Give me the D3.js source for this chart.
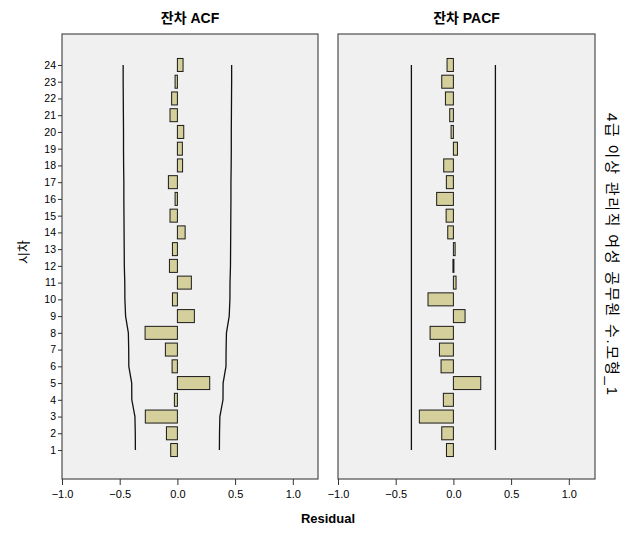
<!DOCTYPE html>
<html><head><meta charset="utf-8">
<script src="https://cdn.jsdelivr.net/npm/d3@7"></script>
<style>
html,body{margin:0;padding:0;background:#fff;}
text{font-family:"Liberation Sans",Arial,"Noto Sans CJK KR",sans-serif;}
</style></head>
<body>
<svg id="c" width="629" height="544"></svg>
<script>
const lags = d3.range(1, 25);
const acfValues = [-0.058,-0.095,-0.278,-0.026,0.28,-0.046,-0.104,-0.28,0.147,-0.043,0.121,-0.069,-0.043,0.067,-0.064,-0.02,-0.078,0.045,0.043,0.055,-0.064,-0.05,-0.02,0.049];
const acfLimits = [0.364,0.365,0.368,0.395,0.396,0.421,0.422,0.425,0.449,0.455,0.456,0.460,0.461,0.462,0.463,0.464,0.464,0.466,0.467,0.467,0.468,0.469,0.470,0.470];
const pacfValues = [-0.06,-0.101,-0.295,-0.087,0.237,-0.107,-0.121,-0.202,0.101,-0.22,0.023,-0.004,0.015,-0.049,-0.063,-0.145,-0.061,-0.084,0.035,-0.02,-0.032,-0.069,-0.101,-0.055];
const pacfLimits = lags.map(() => 0.364);
const xTicks = [-1.0, -0.5, 0.0, 0.5, 1.0];
const panelTitles = ["잔차 ACF", "잔차 PACF"];
const yLabel = "시차";
const xLabel = "Residual";
const rightLabel = "4급 이상 관리직 여성 공무원 수.모형_1";

const svg = d3.select("#c");
const pTop = 34, pBottom = 479;
const y = d3.scaleLinear().domain([-0.73, 25.85]).range([pBottom, pTop]);
const barH = 13;

const panels = [
  {x0: 62, x1: 318, values: acfValues, limits: acfLimits, title: panelTitles[0]},
  {x0: 338, x1: 595, values: pacfValues, limits: pacfLimits, title: panelTitles[1]}
];

panels.forEach((p, pi) => {
  const x = d3.scaleLinear().domain([-1, 1]).range([p.x0, p.x0 + 2*115.4]);
  const g = svg.append("g");
  g.append("rect").attr("x", p.x0).attr("y", pTop).attr("width", p.x1 - p.x0).attr("height", pBottom - pTop)
    .attr("fill", "#f0f0f0").attr("stroke", "#4d4d4d").attr("stroke-width", 1.2);
  g.selectAll("rect.bar").data(lags).join("rect").attr("class", "bar")
    .attr("x", d => Math.min(x(0), x(p.values[d-1])))
    .attr("width", d => Math.max(1, Math.abs(x(p.values[d-1]) - x(0))))
    .attr("y", d => y(d) - barH/2).attr("height", barH)
    .attr("fill", "#d4cf9b").attr("stroke", "#1a1a1a").attr("stroke-width", 1);
  const lineU = d3.line().x(d => x(p.limits[d-1])).y(d => y(d));
  const lineL = d3.line().x(d => x(-p.limits[d-1])).y(d => y(d));
  g.append("path").attr("d", lineU(lags)).attr("fill", "none").attr("stroke", "#111").attr("stroke-width", 1.3);
  g.append("path").attr("d", lineL(lags)).attr("fill", "none").attr("stroke", "#111").attr("stroke-width", 1.3);
  const xa = g.append("g").attr("transform", `translate(0,${pBottom})`)
    .call(d3.axisBottom(x).tickValues(xTicks).tickFormat(d3.format(".1f")).tickSize(6).tickSizeOuter(0));
  xa.select(".domain").remove();
  xa.selectAll("line").attr("stroke", "#333");
  xa.selectAll("text").attr("font-size", 11).attr("fill", "#000").attr("dy", "0.9em");
  g.append("text").attr("x", (p.x0 + p.x1)/2).attr("y", 23).attr("text-anchor", "middle")
    .attr("font-size", 14).attr("font-weight", "bold").text(p.title);
  if (pi === 0) {
    const ya = g.append("g").attr("transform", `translate(${p.x0},0)`)
      .call(d3.axisLeft(y).tickValues(lags).tickFormat(d3.format("d")).tickSize(4).tickPadding(2).tickSizeOuter(0));
    ya.select(".domain").remove();
    ya.selectAll("line").attr("stroke", "#333");
    ya.selectAll("text").attr("font-size", 10.5).attr("fill", "#000");
  }
});

svg.append("text").attr("x", 328).attr("y", 523).attr("text-anchor", "middle")
  .attr("font-size", 13).attr("font-weight", "bold").text(xLabel);
svg.append("text").attr("transform", "translate(28,252) rotate(-90)").attr("text-anchor", "middle")
  .attr("font-size", 13).text(yLabel);
svg.append("text").attr("transform", "translate(607,254) rotate(90)").attr("text-anchor", "middle")
  .attr("font-size", 15).attr("textLength", 282).attr("lengthAdjust", "spacing").text(rightLabel);
</script>
</body></html>
